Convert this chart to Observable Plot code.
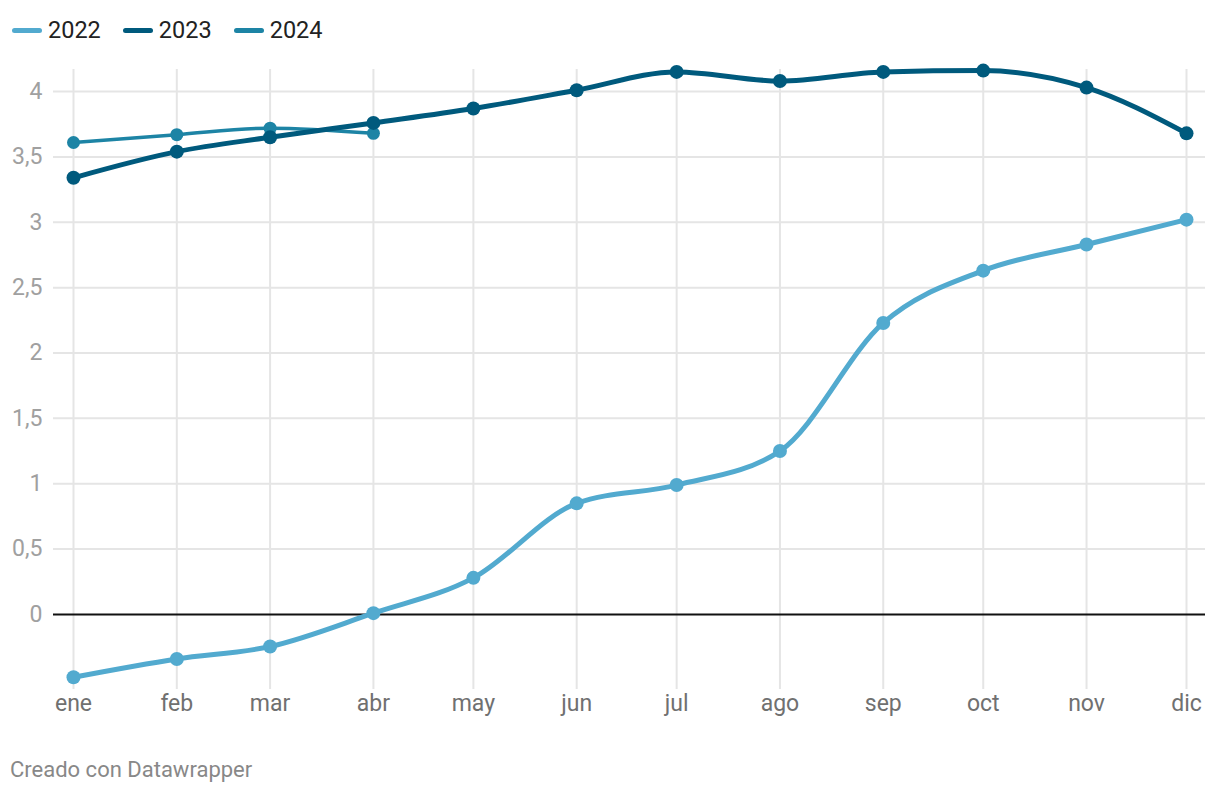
<!DOCTYPE html>
<html>
<head>
<meta charset="utf-8">
<script src="https://cdn.jsdelivr.net/npm/d3@7"></script>
<script src="https://cdn.jsdelivr.net/npm/@observablehq/plot@0.6"></script>
<style>
  body { margin: 0; background: #fff; font-family: Roboto, "Noto Sans", sans-serif; width: 1220px; height: 794px; overflow: hidden; position: relative; }
  #legend { height: 60px; display: flex; align-items: center; padding-left: 12px; font-size: 23.5px; color: #222; }
  .item { display: flex; align-items: center; margin-right: 22px; }
  .sw { width: 30px; height: 5px; border-radius: 3px; margin-right: 6px; }
  #caption { position: absolute; left: 10px; top: 757px; font-size: 22px; color: #888; }
</style>
</head>
<body>
<div id="legend"></div>
<div id="chart"></div>
<div id="caption">Creado con Datawrapper</div>
<script>
const months = ["ene","feb","mar","abr","may","jun","jul","ago","sep","oct","nov","dic"];
const v2022 = [-0.48, -0.34, -0.245, 0.01, 0.28, 0.85, 0.99, 1.25, 2.23, 2.63, 2.83, 3.02];
const v2023 = [3.34, 3.54, 3.65, 3.76, 3.87, 4.01, 4.15, 4.08, 4.15, 4.16, 4.03, 3.68];
const v2024 = [3.61, 3.67, 3.72, 3.68];
const series = ["2022", "2023", "2024"];
const colors = ["#52aacf", "#005a7d", "#1d84a5"];
const yTicks = [0, 0.5, 1, 1.5, 2, 2.5, 3, 3.5, 4];

const dateOf = i => new Date(Date.UTC(2001, i, 1));
const toRows = (vals, s) => vals.map((v, i) => ({date: dateOf(i), value: v, series: s}));
const d22 = toRows(v2022, "2022");
const d23 = toRows(v2023, "2023");
const d24 = toRows(v2024, "2024");
const monthDates = months.map((m, i) => dateOf(i));

const legend = document.getElementById("legend");
series.forEach((s, i) => {
  const it = document.createElement("div");
  it.className = "item";
  it.innerHTML = `<span class="sw" style="background:${colors[i]}"></span><span>${s}</span>`;
  legend.appendChild(it);
});

const fmtY = d => String(d).replace(".", ",");
const fmtX = d => months[d.getUTCMonth()];

const chart = Plot.plot({
  width: 1220,
  height: 680,
  marginTop: 9,
  marginBottom: 51,
  marginLeft: 73,
  marginRight: 34,
  style: {fontFamily: "Roboto, sans-serif", fontSize: "23px", background: "#fff"},
  x: {type: "utc", domain: [dateOf(0), dateOf(11)], range: [73, 1186]},
  y: {domain: [-0.57, 4.17], range: [628.5, 8.8]},
  marks: [
    Plot.ruleX(monthDates, {stroke: "#e5e5e5", strokeWidth: 2}),
    Plot.ruleY(yTicks.filter(d => d !== 0), {stroke: "#e5e5e5", strokeWidth: 2, insetLeft: -20, insetRight: -19}),
    Plot.ruleY([0], {stroke: "#111", strokeWidth: 2, insetLeft: -20, insetRight: -19}),
    Plot.axisY(yTicks, {tickSize: 0, tickPadding: 31, textAnchor: "end", tickFormat: fmtY, fill: "#a0a0a0", fontSize: 23, label: null}),
    Plot.axisX(monthDates, {tickSize: 0, tickPadding: 5, tickFormat: fmtX, fill: "#707070", fontSize: 23, label: null}),
    Plot.line(d22, {x: "date", y: "value", stroke: colors[0], strokeWidth: 5, curve: "monotone-x"}),
    Plot.dot(d22, {x: "date", y: "value", fill: colors[0], r: 7}),
    Plot.line(d24, {x: "date", y: "value", stroke: colors[2], strokeWidth: 3.5, curve: "monotone-x"}),
    Plot.dot(d24, {x: "date", y: "value", fill: colors[2], r: 6.5}),
    Plot.line(d23, {x: "date", y: "value", stroke: colors[1], strokeWidth: 5, curve: "monotone-x"}),
    Plot.dot(d23, {x: "date", y: "value", fill: colors[1], r: 7})
  ]
});
document.getElementById("chart").appendChild(chart);
</script>
</body>
</html>
